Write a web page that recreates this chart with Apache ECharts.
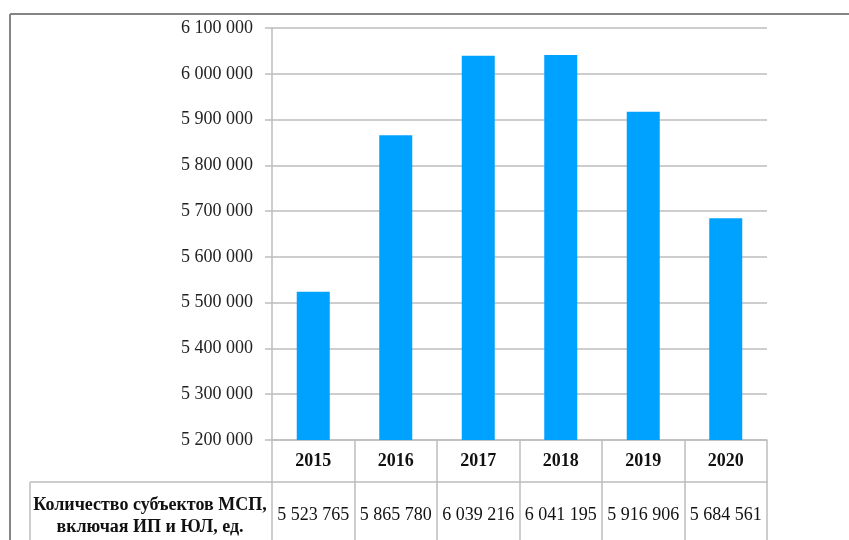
<!DOCTYPE html>
<html><head><meta charset="utf-8">
<script src="https://cdn.jsdelivr.net/npm/echarts@6/dist/echarts.min.js"></script>
<style>html,body{margin:0;padding:0;background:#fff}#c{width:849px;height:540px}</style>
</head><body><div id="c"></div>
<script>
var years = ['2015','2016','2017','2018','2019','2020'];
var counts = [5523765, 5865780, 6039216, 6041195, 5916906, 5684561];
var rowLabel = 'Количество субъектов МСП,\nвключая ИП и ЮЛ, ед.';
var yMin = 5200000, yMax = 6100000, yStep = 100000;

function fmt(v){ return String(v).replace(/\B(?=(\d{3})+(?!\d))/g, ' '); }
var font = '"Liberation Serif","Times New Roman",serif';
var lineGray = '#bdbdbd';

var chart = echarts.init(document.getElementById('c'), null, {renderer:'canvas'});
chart.setOption({
  animation:false,
  backgroundColor:'#fff',
  grid:{left:272, right:82, top:28, bottom:100, containLabel:false},
  xAxis:[{
    type:'category', data:years, position:'bottom',
    axisLine:{show:true, lineStyle:{color:lineGray, width:1.5}},
    axisTick:{show:true, interval:0, length:100, lineStyle:{color:lineGray, width:1.5}},
    axisLabel:{interval:0, margin:21, verticalAlign:'middle', fontFamily:font, fontSize:18, fontWeight:'bold', color:'#111'}
  },{
    type:'category', data:counts.map(fmt), position:'bottom', offset:42,
    axisLine:{show:true, lineStyle:{color:lineGray, width:1.5}},
    axisTick:{show:false},
    axisLabel:{interval:0, margin:33, verticalAlign:'middle', fontFamily:font, fontSize:18, color:'#111'}
  }],
  yAxis:{
    type:'value', min:yMin, max:yMax, interval:yStep,
    axisLine:{show:true, lineStyle:{color:lineGray, width:1.5}},
    axisTick:{show:true, length:7, lineStyle:{color:lineGray, width:1.5}},
    splitLine:{show:true, lineStyle:{color:lineGray, width:1.5}},
    axisLabel:{margin:19, fontFamily:font, fontSize:18, color:'#222', formatter:fmt}
  },
  series:[{
    type:'bar', data:counts, xAxisIndex:0, barWidth:'40%',
    itemStyle:{color:'#00a2ff'}
  }],
  graphic:[
    {type:'line', shape:{x1:10,y1:14,x2:849,y2:14}, style:{stroke:'#858585', lineWidth:2}},
    {type:'line', shape:{x1:10,y1:14,x2:10,y2:540}, style:{stroke:'#858585', lineWidth:2}},
    {type:'line', shape:{x1:30,y1:482,x2:272,y2:482}, style:{stroke:lineGray, lineWidth:1.5}},
    {type:'line', shape:{x1:30,y1:482,x2:30,y2:540}, style:{stroke:lineGray, lineWidth:1.5}},
    {type:'text', left:null, x:150, y:516, style:{text:rowLabel, x:0, y:0, textAlign:'center', textVerticalAlign:'middle', font:'bold 18px '+font, lineHeight:22, fill:'#111'}}
  ]
});
</script></body></html>
